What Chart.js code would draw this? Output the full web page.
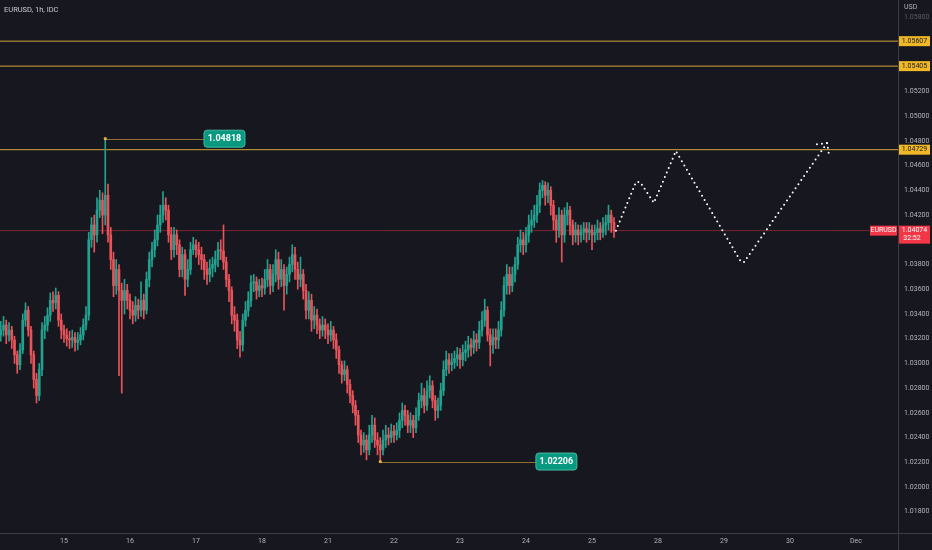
<!DOCTYPE html>
<html lang="en">
<head>
<meta charset="UTF-8">
<title>EURUSD, 1h, IDC</title>
<script src="https://cdn.jsdelivr.net/npm/chart.js@4.4.1/dist/chart.umd.min.js"></script>
<style>
  html, body { margin: 0; padding: 0; background: #17171f; }
  #wrap { width: 932px; height: 550px; }
</style>
</head>
<body>
<div id="wrap"><canvas id="chart" width="932" height="550"></canvas></div>
<script>
// hourly candles, Nov 14 01:00 .. Nov 25 08:00 (x = hours since Nov 14 00:00, weekends skipped)
const firstOpen = 1.0323;
const closes = [
  1.0327,1.0331,1.0323,1.0327,1.0319,1.0307,1.0299,1.0311,1.0335,1.0343,
  1.0327,1.0307,1.0287,1.0274,1.0295,1.0327,1.0331,1.0339,1.0351,1.0349,
  1.0355,1.0335,1.0327,1.0323,1.0320,1.0319,1.0321,1.0317,1.0319,1.0323,
  1.0331,1.0339,1.0400,1.0412,1.0404,1.0424,1.0432,1.0420,1.0436,1.0404,
  1.0384,1.0363,1.0376,1.0359,1.0351,1.0359,1.0351,1.0343,1.0339,1.0347,
  1.0343,1.0351,1.0343,1.0368,1.0384,1.0392,1.0400,1.0412,1.0420,1.0428,
  1.0424,1.0404,1.0392,1.0404,1.0396,1.0376,1.0388,1.0368,1.0376,1.0392,
  1.0396,1.0392,1.0388,1.0384,1.0376,1.0372,1.0377,1.0380,1.0384,1.0392,
  1.0391,1.0382,1.0368,1.0359,1.0339,1.0335,1.0319,1.0315,1.0335,1.0343,
  1.0351,1.0365,1.0366,1.0359,1.0363,1.0361,1.0368,1.0376,1.0363,1.0372,
  1.0384,1.0368,1.0376,1.0363,1.0372,1.0380,1.0388,1.0376,1.0368,1.0372,
  1.0359,1.0343,1.0351,1.0335,1.0339,1.0331,1.0327,1.0331,1.0327,1.0323,
  1.0327,1.0319,1.0311,1.0299,1.0291,1.0295,1.0283,1.0274,1.0266,1.0258,
  1.0242,1.0234,1.0238,1.0230,1.0242,1.0250,1.0238,1.0234,1.0230,1.0238,
  1.0242,1.0240,1.0245,1.0242,1.0246,1.0254,1.0262,1.0258,1.0250,1.0254,
  1.0248,1.0258,1.0270,1.0274,1.0266,1.0278,1.0282,1.0270,1.0262,1.0266,
  1.0278,1.0295,1.0303,1.0299,1.0301,1.0304,1.0307,1.0303,1.0309,1.0311,
  1.0315,1.0313,1.0319,1.0317,1.0327,1.0335,1.0343,1.0323,1.0315,1.0321,
  1.0319,1.0327,1.0343,1.0363,1.0372,1.0363,1.0372,1.0380,1.0396,1.0400,
  1.0396,1.0404,1.0412,1.0416,1.0420,1.0428,1.0440,1.0444,1.0436,1.0440,
  1.0428,1.0416,1.0408,1.0420,1.0404,1.0420,1.0424,1.0412,1.0404,1.0408,
  1.0404,1.0406,1.0409,1.0406,1.0408,1.0404,1.0406,1.0409,1.0406,1.0412,
  1.0414,1.0420,1.0414,1.04074
];
const highs = [
  1.0334,1.0338,1.0335,1.0333,1.0330,1.0322,1.0310,1.0316,1.0340,1.0349,
  1.0346,1.0330,1.0310,1.0292,1.0300,1.0333,1.0338,1.0345,1.0357,1.0358,
  1.0361,1.0358,1.0340,1.0331,1.0328,1.0326,1.0327,1.0325,1.0325,1.0329,
  1.0336,1.0346,1.0406,1.0418,1.0420,1.0434,1.0440,1.0438,1.04818,1.0445,
  1.0410,1.0390,1.0384,1.0380,1.0365,1.0368,1.0364,1.0356,1.0350,1.0354,
  1.0352,1.0366,1.0356,1.0374,1.0390,1.0398,1.0408,1.0420,1.0428,1.0439,
  1.0434,1.0428,1.0410,1.0410,1.0408,1.0400,1.0394,1.0392,1.0384,1.0398,
  1.0402,1.0400,1.0398,1.0394,1.0388,1.0382,1.0384,1.0386,1.0391,1.0398,
  1.0400,1.0412,1.0386,1.0372,1.0362,1.0346,1.0340,1.0326,1.0340,1.0350,
  1.0358,1.0371,1.0372,1.0370,1.0368,1.0369,1.0376,1.0384,1.0380,1.0380,
  1.0392,1.0390,1.0384,1.0380,1.0378,1.0386,1.0396,1.0394,1.0382,1.0386,
  1.0376,1.0364,1.0358,1.0356,1.0346,1.0344,1.0336,1.0338,1.0336,1.0332,
  1.0334,1.0330,1.0324,1.0314,1.0302,1.0302,1.0298,1.0287,1.0278,1.0270,
  1.0262,1.0246,1.0244,1.0242,1.0250,1.0258,1.0256,1.0244,1.0240,1.0246,
  1.0250,1.0248,1.0251,1.0250,1.0252,1.0260,1.0268,1.0266,1.0262,1.0260,
  1.0258,1.0264,1.0276,1.0284,1.0280,1.0286,1.0290,1.0286,1.0274,1.0272,
  1.0284,1.0302,1.0310,1.0308,1.0308,1.0310,1.0313,1.0312,1.0315,1.0318,
  1.0322,1.0320,1.0326,1.0324,1.0334,1.0342,1.0352,1.0346,1.0328,1.0328,
  1.0328,1.0334,1.0350,1.0370,1.0380,1.0378,1.0378,1.0386,1.0402,1.0408,
  1.0406,1.0410,1.0420,1.0424,1.0428,1.0436,1.0446,1.0448,1.0447,1.0446,
  1.0443,1.0432,1.0420,1.0426,1.0424,1.0426,1.0430,1.0427,1.0416,1.0414,
  1.0412,1.0412,1.0414,1.0414,1.0414,1.0412,1.0412,1.0416,1.0414,1.0418,
  1.0420,1.0428,1.0424,1.0418
];
const lows = [
  1.0318,1.0322,1.0316,1.0318,1.0312,1.0300,1.0292,1.0295,1.0308,1.0330,
  1.0322,1.0300,1.0280,1.0268,1.0270,1.0290,1.0320,1.0326,1.0334,1.0342,
  1.0344,1.0330,1.0320,1.0317,1.0314,1.0312,1.0313,1.0310,1.0311,1.0315,
  1.0319,1.0327,1.0335,1.0394,1.0390,1.0398,1.0418,1.0405,1.0412,1.0398,
  1.0376,1.0354,1.0356,1.0290,1.0276,1.0340,1.0344,1.0336,1.0332,1.0334,
  1.0336,1.0338,1.0336,1.0340,1.0362,1.0378,1.0386,1.0395,1.0406,1.0414,
  1.0416,1.0398,1.0384,1.0386,1.0388,1.0370,1.0370,1.0355,1.0362,1.0372,
  1.0388,1.0386,1.0380,1.0376,1.0368,1.0364,1.0366,1.0370,1.0374,1.0378,
  1.0384,1.0376,1.0362,1.0350,1.0332,1.0326,1.0312,1.0305,1.0310,1.0330,
  1.0338,1.0346,1.0358,1.0352,1.0354,1.0354,1.0356,1.0362,1.0356,1.0358,
  1.0366,1.0360,1.0362,1.0343,1.0356,1.0366,1.0374,1.0368,1.0360,1.0362,
  1.0352,1.0336,1.0336,1.0326,1.0328,1.0324,1.0320,1.0322,1.0320,1.0316,
  1.0318,1.0312,1.0304,1.0292,1.0284,1.0286,1.0276,1.0268,1.0260,1.0250,
  1.0236,1.0226,1.0228,1.0222,1.0226,1.0236,1.0232,1.0226,1.02206,1.0226,
  1.0232,1.0234,1.0236,1.0236,1.0238,1.0240,1.0248,1.0250,1.0244,1.0244,
  1.0240,1.0244,1.0254,1.0264,1.0260,1.0262,1.0272,1.0264,1.0254,1.0256,
  1.0262,1.0274,1.0290,1.0292,1.0294,1.0296,1.0298,1.0296,1.0298,1.0302,
  1.0305,1.0306,1.0308,1.0310,1.0312,1.0322,1.0330,1.0318,1.0298,1.0308,
  1.0312,1.0312,1.0322,1.0338,1.0356,1.0356,1.0358,1.0366,1.0376,1.0390,
  1.0388,1.0390,1.0398,1.0406,1.0410,1.0414,1.0422,1.0434,1.0428,1.0430,
  1.0420,1.0408,1.0398,1.0402,1.0382,1.0398,1.0412,1.0404,1.0396,1.0398,
  1.0396,1.0398,1.0400,1.0398,1.0400,1.0392,1.0398,1.0400,1.0400,1.0402,
  1.0404,1.0408,1.0406,1.0402
];

// time axis
const dayTicks  = [24, 48, 72, 96, 120, 144, 168, 192, 216, 240, 264, 288, 312];
const dayLabels = ['15', '16', '17', '18', '21', '22', '23', '24', '25', '28', '29', '30', 'Dec'];
const xMin = 0.727, xMax = 327.27;

// price axis
const priceTicks = [1.018, 1.020, 1.022, 1.024, 1.026, 1.028, 1.030, 1.032, 1.034, 1.036, 1.038,
                    1.040, 1.042, 1.044, 1.046, 1.048, 1.050, 1.052, 1.054, 1.056, 1.058];
const yMin = 1.01628, yMax = 1.05940;

// drawings
const levels = [1.05607, 1.05405, 1.04729];
const lastPrice = 1.04074;
const countdown = '32:52';
const highMark = { x: 39, y: 1.04818, labelX: 74.9 };
const lowMark  = { x: 139, y: 1.02206, labelX: 195.6 };
const projX = [224.7, 232, 233.5, 238.5, 246.5, 270.2, 271.3, 301.5];
const projY = [1.04074, 1.04468, 1.04468, 1.04298, 1.04718, 1.03820, 1.03820, 1.04783];
const arrowX = [297.8, 301.5, 302.2];
const arrowY = [1.04773, 1.04783, 1.04686];

const UP = '#22a28f', DOWN = '#e9535a';
const BG = '#17171f', TEXT = '#b2b5be', GOLD = '#d0a43a';
const FONT = 'Roboto, "Noto Sans", sans-serif';

const opens = closes.map((c, i) => i === 0 ? firstOpen : closes[i - 1]);
const hours = closes.map((c, i) => i + 1);
const candleColors = closes.map((c, i) => c >= opens[i] ? UP : DOWN);

function roundBox(ctx, x, y, w, h, r) {
    ctx.beginPath();
    ctx.moveTo(x + r, y);
    ctx.lineTo(x + w - r, y);
    ctx.quadraticCurveTo(x + w, y, x + w, y + r);
    ctx.lineTo(x + w, y + h - r);
    ctx.quadraticCurveTo(x + w, y + h, x + w - r, y + h);
    ctx.lineTo(x + r, y + h);
    ctx.quadraticCurveTo(x, y + h, x, y + h - r);
    ctx.lineTo(x, y + r);
    ctx.quadraticCurveTo(x, y, x + r, y);
    ctx.closePath();
}

const overlay = {
    id: 'overlay',
    beforeDraw(chart) {
        const ctx = chart.ctx;
        ctx.save();
        ctx.fillStyle = BG;
        ctx.fillRect(0, 0, chart.width, chart.height);
        ctx.restore();
    },
    afterDraw(chart) {
        const { ctx, chartArea } = chart;
        const xs = chart.scales.x, ys = chart.scales.y;
        ctx.save();

        // axis borders
        ctx.strokeStyle = '#3a3c46';
        ctx.lineWidth = 1;
        ctx.beginPath();
        ctx.moveTo(Math.round(chartArea.right) + 0.5, 0);
        ctx.lineTo(Math.round(chartArea.right) + 0.5, chart.height);
        ctx.moveTo(0, Math.round(chartArea.bottom) + 0.5);
        ctx.lineTo(chart.width, Math.round(chartArea.bottom) + 0.5);
        ctx.stroke();

        // high / low price notes
        [highMark, lowMark].forEach(m => {
            const x0 = xs.getPixelForValue(m.x), y0 = ys.getPixelForValue(m.y);
            const bx = xs.getPixelForValue(m.labelX);
            ctx.strokeStyle = '#8f7032';
            ctx.lineWidth = 1;
            ctx.beginPath();
            ctx.moveTo(x0, Math.round(y0) + 0.5);
            ctx.lineTo(bx, Math.round(y0) + 0.5);
            ctx.stroke();
            ctx.fillStyle = '#e3b341';
            ctx.beginPath();
            ctx.arc(x0, y0, 1.6, 0, Math.PI * 2);
            ctx.fill();
            roundBox(ctx, bx, y0 - 8.5, 41, 17, 3);
            ctx.fillStyle = '#089981';
            ctx.fill();
            ctx.strokeStyle = '#45b89f';
            ctx.stroke();
            ctx.fillStyle = '#ffffff';
            ctx.font = 'bold 9px ' + FONT;
            ctx.textAlign = 'center';
            ctx.textBaseline = 'middle';
            ctx.fillText(m.y.toFixed(5), bx + 20.5, y0 + 0.5);
        });

        // level labels on the price axis
        const ax = chartArea.right + 1;
        ctx.font = '7px ' + FONT;
        ctx.textAlign = 'center';
        ctx.textBaseline = 'middle';
        levels.forEach(v => {
            const y = ys.getPixelForValue(v);
            ctx.fillStyle = '#f0b827';
            ctx.fillRect(ax, y - 5, 31, 10);
            ctx.fillStyle = '#17171f';
            ctx.fillText(v.toFixed(5), ax + 15.5, y);
        });

        // last price labels
        const py = ys.getPixelForValue(lastPrice);
        ctx.fillStyle = '#f23645';
        ctx.fillRect(ax, py - 5, 31, 18);
        ctx.fillRect(chartArea.right - 28, py - 5, 27, 10);
        ctx.fillStyle = '#ffffff';
        ctx.fillText(lastPrice.toFixed(5), ax + 15.5, py);
        ctx.fillText(countdown, ax + 13, py + 8);
        ctx.fillText('EURUSD', chartArea.right - 14.5, py);

        // header texts
        ctx.fillStyle = '#c8cad2';
        ctx.textAlign = 'left';
        ctx.font = '7.5px ' + FONT;
        ctx.fillText('EURUSD, 1h, IDC', 4, 10);
        ctx.fillStyle = TEXT;
        ctx.font = '7px ' + FONT;
        ctx.fillText('USD', chartArea.right + 6, 7.5);
        ctx.restore();
    }
};

const levelSets = levels.map(v => ({
    type: 'line',
    data: [{ x: xMin, y: v }, { x: xMax, y: v }],
    borderColor: GOLD,
    borderWidth: 1,
    pointRadius: 0,
    order: 5
}));

new Chart(document.getElementById('chart'), {
    type: 'bar',
    data: {
        datasets: [
            ...levelSets,
            {
                type: 'line',
                data: [{ x: xMin, y: lastPrice }, { x: xMax, y: lastPrice }],
                borderColor: 'rgba(242, 54, 69, 0.45)',
                borderWidth: 1,
                pointRadius: 0,
                order: 5
            },
            {
                data: hours.map((h, i) => ({ x: h, y: [lows[i], highs[i]] })),
                backgroundColor: candleColors,
                barThickness: 1,
                grouped: false,
                order: 3
            },
            {
                data: hours.map((h, i) => ({ x: h, y: [opens[i], closes[i]] })),
                backgroundColor: candleColors,
                barThickness: 2,
                grouped: false,
                order: 2
            },
            {
                type: 'line',
                data: projX.map((x, i) => ({ x: x, y: projY[i] })),
                borderColor: '#ffffff',
                borderWidth: 2,
                borderDash: [0, 5],
                borderCapStyle: 'round',
                pointRadius: 0,
                order: 1
            },
            {
                type: 'line',
                data: arrowX.map((x, i) => ({ x: x, y: arrowY[i] })),
                borderColor: '#ffffff',
                borderWidth: 2,
                borderDash: [0, 5],
                borderCapStyle: 'round',
                pointRadius: 0,
                order: 1
            }
        ]
    },
    options: {
        responsive: false,
        animation: false,
        devicePixelRatio: 1,
        events: [],
        layout: { padding: 0 },
        plugins: {
            legend: { display: false },
            tooltip: { enabled: false }
        },
        scales: {
            x: {
                type: 'linear',
                min: xMin,
                max: xMax,
                offset: false,
                grid: { display: false, drawTicks: false },
                border: { display: false },
                afterBuildTicks: scale => { scale.ticks = dayTicks.map(v => ({ value: v })); },
                afterFit: scale => {
                    scale.height = 17;
                    scale.paddingLeft = 0;
                    scale.paddingRight = 0;
                },
                ticks: {
                    autoSkip: false,
                    maxRotation: 0,
                    padding: 4,
                    color: TEXT,
                    font: { family: FONT, size: 7 },
                    callback: v => dayLabels[dayTicks.indexOf(v)]
                }
            },
            y: {
                position: 'right',
                min: yMin,
                max: yMax,
                grid: { display: false, drawTicks: false },
                border: { display: false },
                afterBuildTicks: scale => { scale.ticks = priceTicks.map(v => ({ value: v })); },
                afterFit: scale => {
                    scale.width = 34;
                    scale.paddingTop = 0;
                    scale.paddingBottom = 0;
                },
                ticks: {
                    padding: 6,
                    color: c => c.tick && c.tick.value > 1.057 ? '#5a5c66' : TEXT,
                    font: { family: FONT, size: 7 },
                    callback: v => Number(v).toFixed(5)
                }
            }
        }
    },
    plugins: [overlay]
});
</script>
</body>
</html>
